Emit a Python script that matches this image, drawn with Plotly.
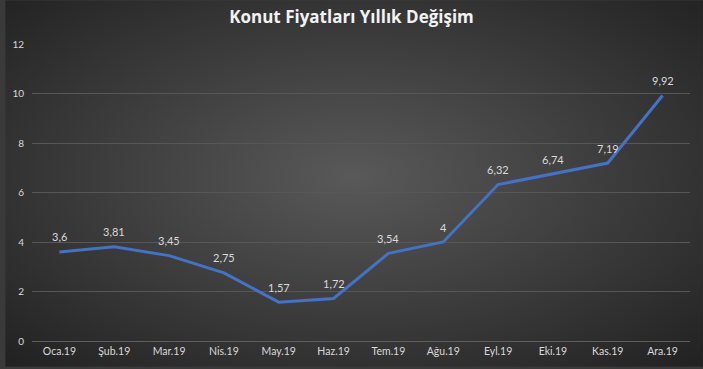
import base64
import plotly.graph_objects as go

months = ["Oca.19", "Şub.19", "Mar.19", "Nis.19", "May.19", "Haz.19",
          "Tem.19", "Ağu.19", "Eyl.19", "Eki.19", "Kas.19", "Ara.19"]
values = [3.6, 3.81, 3.45, 2.75, 1.57, 1.72, 3.54, 4, 6.32, 6.74, 7.19, 9.92]
labels = ["3,6", "3,81", "3,45", "2,75", "1,57", "1,72", "3,54", "4", "6,32", "6,74", "7,19", "9,92"]
y_ticks = [0, 2, 4, 6, 8, 10, 12]

W, H = 703, 369
ML, MR, MT, MB = 27, 13, 44, 26
PW, PH = W - ML - MR, H - MT - MB

svg = ('<svg xmlns="http://www.w3.org/2000/svg" width="703" height="369" viewBox="0 0 703 369">'
       '<defs><radialGradient id="g" cx="50%" cy="48%" r="72%">'
       '<stop offset="0%" stop-color="#595959"/>'
       '<stop offset="100%" stop-color="#212121"/>'
       '</radialGradient></defs>'
       '<rect width="703" height="369" fill="url(#g)"/></svg>')
bg = "data:image/svg+xml;base64," + base64.b64encode(svg.encode()).decode()

FONT = "Lato, Carlito, sans-serif"

fig = go.Figure()
fig.add_trace(go.Scatter(
    x=months, y=values, mode="lines",
    line=dict(color="#4472c4", width=3),
    hoverinfo="x+y", showlegend=False,
))

annotations = [dict(x=m, y=v, text=t, showarrow=False, yshift=15, xref="x", yref="y",
                    font=dict(family=FONT, size=11, color="#d9d9d9"))
               for m, v, t in zip(months, values, labels)]

fig.update_layout(
    width=W, height=H,
    margin=dict(l=ML, r=MR, t=MT, b=MB),
    paper_bgcolor="#3a3a3a",
    plot_bgcolor="rgba(0,0,0,0)",
    title=dict(text="<b>Konut Fiyatları Yıllık Değişim</b>", x=0.5, xanchor="center",
               y=0.953, yanchor="middle",
               font=dict(family="Open Sans, sans-serif", size=17, color="#f2f2f2")),
    images=[dict(source=bg, xref="paper", yref="paper",
                 x=-ML / PW, y=1 + MT / PH, sizex=W / PW, sizey=H / PH,
                 xanchor="left", yanchor="top", sizing="stretch", layer="below")],
    annotations=annotations,
    xaxis=dict(showgrid=False, showline=True, linecolor="#5e5e5e", linewidth=1,
               ticks="", tickfont=dict(family=FONT, size=10.5, color="#d9d9d9"),
               range=[-0.5, 11.5], fixedrange=True),
    yaxis=dict(range=[0, 12], tickvals=y_ticks, showgrid=True, gridcolor="#575757", gridwidth=1,
               zeroline=False, ticks="", ticklabelstandoff=7,
               tickfont=dict(family=FONT, size=10, color="#d9d9d9")),
)

fig.write_html("out.html", config={"displayModeBar": False},
               post_script="document.body.style.margin='0';document.body.style.padding='0';document.body.style.overflow='hidden';")
